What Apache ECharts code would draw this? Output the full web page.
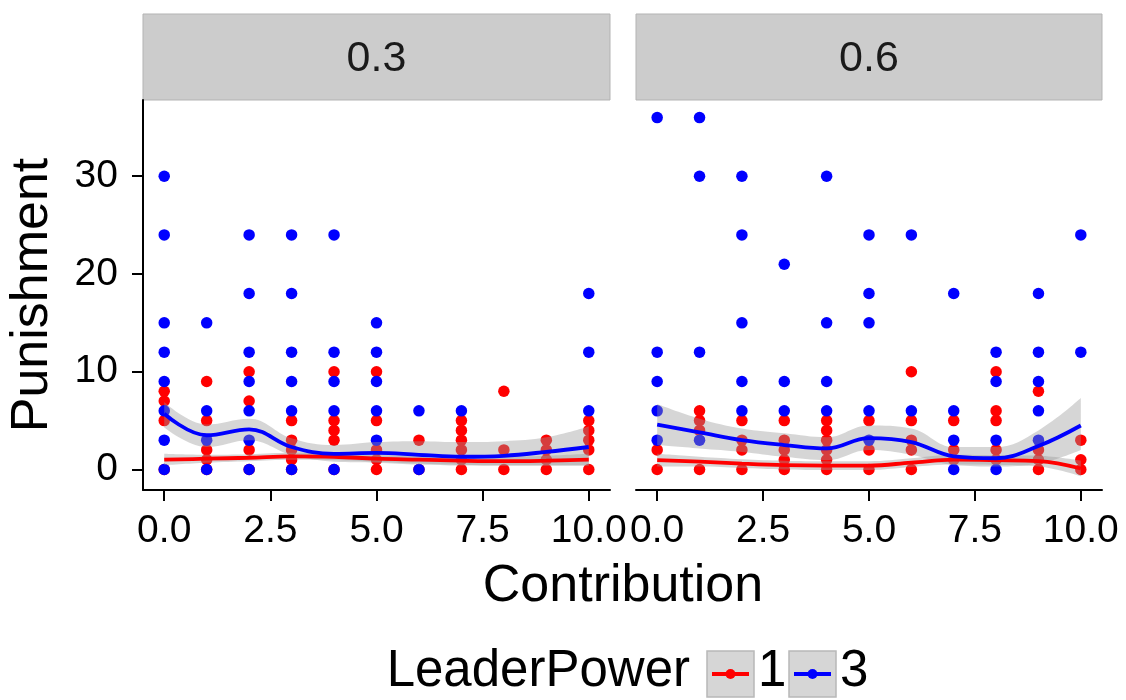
<!DOCTYPE html>
<html>
<head>
<meta charset="utf-8">
<script src="https://cdn.jsdelivr.net/npm/echarts@6/dist/echarts.min.js"></script>
<style>
  html, body { margin: 0; padding: 0; background: #ffffff; }
  #chart { width: 1126px; height: 700px; }
</style>
</head>
<body>
<div id="chart"></div>
<script>
// Facets (sharing rate) and axis ticks
const facets = ['0.3', '0.6'];
const contribTicks = [0, 2.5, 5, 7.5, 10];
const punishTicks = [0, 10, 20, 30];
const legendTitle = 'LeaderPower';
const groups = ['1', '3'];
const groupColors = ['#FF0000', '#0000FF'];

// Observations [Contribution, Punishment], LeaderPower = 1, facet 0.3
const lp1_03 = [[0,8],[0,7],[0,5],[0,0],[1,9],[1,5],[1,2],[1,1],[1,0],[2,10],[2,7],[2,2],[2,0],
  [3,5],[3,3],[3,2],[3,1],[3,0],[4,10],[4,5],[4,4],[4,3],[4,0],[5,10],[5,5],[5,2],[5,1],[5,0],
  [6,3],[6,0],[7,5],[7,4],[7,3],[7,2],[7,1],[7,0],[8,8],[8,2],[8,0],[9,3],[9,2],[9,1],[9,0],
  [10,5],[10,4],[10,3],[10,2],[10,0]];
// LeaderPower = 3, facet 0.3
const lp3_03 = [[0,30],[0,24],[0,15],[0,12],[0,9],[0,6],[0,3],[0,0],[1,15],[1,6],[1,3],[1,0],
  [2,24],[2,18],[2,12],[2,9],[2,6],[2,3],[2,0],[3,24],[3,18],[3,12],[3,9],[3,6],[3,0],
  [4,24],[4,12],[4,9],[4,6],[4,0],[5,15],[5,12],[5,9],[5,6],[5,3],[6,6],[6,0],[7,6],
  [10,18],[10,12],[10,6]];
// LeaderPower = 1, facet 0.6
const lp1_06 = [[0,2],[0,0],[1,6],[1,5],[1,4],[1,0],[2,5],[2,3],[2,2],[2,0],[3,5],[3,3],[3,2],[3,1],[3,0],
  [4,5],[4,4],[4,3],[4,2],[4,1],[4,0],[5,5],[5,2],[5,0],[6,10],[6,5],[6,3],[6,2],[6,0],
  [7,5],[7,2],[7,1],[8,10],[8,6],[8,5],[8,2],[8,1],[9,8],[9,2],[9,1],[9,0],[10,3],[10,1],[10,0]];
// LeaderPower = 3, facet 0.6
const lp3_06 = [[0,36],[0,12],[0,9],[0,6],[0,3],[1,36],[1,30],[1,12],[1,3],[2,30],[2,24],[2,15],[2,9],[2,6],
  [3,21],[3,9],[3,6],[4,30],[4,15],[4,9],[4,6],[5,24],[5,18],[5,15],[5,6],[5,3],[6,24],[6,6],
  [7,18],[7,6],[7,3],[7,0],[8,12],[8,9],[8,3],[8,0],[9,18],[9,12],[9,9],[9,6],[9,3],[10,24],[10,12]];

// Loess fits with confidence limits, evaluated at each contribution level
const smoothX = [0, 1, 2, 3, 4, 5, 6, 7, 8, 9, 10];
const fit1_03 = [1.0, 1.1, 1.2, 1.35, 1.3, 1.1, 1.0, 0.9, 0.85, 0.9, 1.0];
const lo1_03  = [0.45, 0.7, 0.85, 1.0, 0.95, 0.8, 0.6, 0.45, 0.4, 0.4, 0.4];
const hi1_03  = [1.6, 1.5, 1.55, 1.7, 1.65, 1.45, 1.4, 1.35, 1.3, 1.4, 1.6];
const fit3_03 = [5.7, 3.5, 4.1, 2.3, 1.6, 1.7, 1.5, 1.3, 1.4, 1.8, 2.3];
const lo3_03  = [4.3, 2.3, 3.0, 1.5, 0.8, 0.7, 0.5, 0.4, 0.4, 0.4, 0.4];
const hi3_03  = [6.9, 4.6, 5.2, 3.2, 2.5, 2.8, 2.9, 2.8, 2.9, 3.3, 4.4];
const fit1_06 = [0.95, 0.8, 0.6, 0.45, 0.4, 0.4, 0.7, 1.0, 0.95, 0.85, 0.1];
const lo1_06  = [0.3, 0.3, 0.15, 0.0, -0.05, -0.05, 0.25, 0.5, 0.45, 0.3, -0.7];
const hi1_06  = [1.6, 1.3, 1.05, 0.9, 0.85, 0.85, 1.15, 1.5, 1.45, 1.4, 0.9];
const fit3_06 = [4.6, 3.8, 3.0, 2.5, 2.15, 3.2, 2.8, 1.35, 1.15, 2.4, 4.5];
const lo3_06  = [2.5, 2.15, 1.8, 1.3, 0.95, 2.0, 1.5, 0.45, 0.3, 0.6, 2.0];
const hi3_06  = [6.7, 5.2, 4.2, 3.7, 3.3, 4.5, 4.2, 2.3, 2.3, 4.0, 7.3];

const FONT = "'Liberation Sans', Arial, sans-serif";
const BAND = 'rgba(153,153,153,0.4)';
const SMOOTH = 0.4;

const panels = [
  { points: [lp1_03, lp3_03], fits: [fit1_03, fit3_03], lo: [lo1_03, lo3_03], hi: [hi1_03, hi3_03] },
  { points: [lp1_06, lp3_06], fits: [fit1_06, fit3_06], lo: [lo1_06, lo3_06], hi: [hi1_06, hi3_06] }
];

const gridBoxes = [
  { left: 143, top: 100, width: 467, height: 390 },
  { left: 636, top: 100, width: 466, height: 390 }
];

const grid = [], xAxis = [], yAxis = [], series = [], graphic = [];

panels.forEach((p, gi) => {
  grid.push(gridBoxes[gi]);
  const valX = xAxis.length;
  xAxis.push({
    type: 'value', gridIndex: gi, min: -0.5, max: 10.5,
    splitLine: { show: false },
    axisLine: { show: true, onZero: false, lineStyle: { color: '#000', width: 2 } },
    axisTick: { show: true, customValues: contribTicks, length: 11, lineStyle: { color: '#000', width: 2 } },
    axisLabel: { customValues: contribTicks, formatter: v => v.toFixed(1), fontSize: 39,
      color: '#000', fontFamily: FONT, margin: 22, hideOverlap: false }
  });
  const catX = xAxis.length;
  xAxis.push({ type: 'category', gridIndex: gi, show: false, boundaryGap: true,
    axisLine: { onZero: false }, data: smoothX.map(String) });
  yAxis.push({
    type: 'value', gridIndex: gi, min: -2.1, max: 37.8,
    splitLine: { show: false },
    axisLine: { show: gi === 0, onZero: false, lineStyle: { color: '#000', width: 2 } },
    axisTick: { show: gi === 0, customValues: punishTicks, length: 11, lineStyle: { color: '#000', width: 2 } },
    axisLabel: { show: gi === 0, customValues: punishTicks, fontSize: 39, color: '#000',
      fontFamily: FONT, margin: 25 },
    name: gi === 0 ? 'Punishment' : '',
    nameLocation: 'middle', nameRotate: 90, nameGap: 84,
    nameTextStyle: { fontSize: 52, color: '#000', fontFamily: FONT }
  });

  // raw points, LeaderPower 1 then 3
  p.points.forEach((pts, k) => {
    series.push({
      type: 'scatter', xAxisIndex: valX, yAxisIndex: gi, data: pts,
      symbolSize: 11.5, itemStyle: { color: groupColors[k], opacity: 1 }, silent: true
    });
  });

  // confidence ribbon then fitted curve, per group
  p.fits.forEach((fit, k) => {
    const stackId = 'band' + gi + '_' + k;
    series.push({
      type: 'line', xAxisIndex: catX, yAxisIndex: gi, stack: stackId, stackStrategy: 'all',
      data: p.lo[k], symbol: 'none', smooth: SMOOTH, lineStyle: { opacity: 0 }, silent: true
    });
    series.push({
      type: 'line', xAxisIndex: catX, yAxisIndex: gi, stack: stackId, stackStrategy: 'all',
      data: p.hi[k].map((h, i) => h - p.lo[k][i]), symbol: 'none', smooth: SMOOTH,
      lineStyle: { opacity: 0 }, areaStyle: { color: BAND, opacity: 1 }, silent: true
    });
    series.push({
      type: 'line', xAxisIndex: catX, yAxisIndex: gi, data: fit, symbol: 'none',
      smooth: SMOOTH, lineStyle: { color: groupColors[k], width: 3.8 }, silent: true
    });
  });

  // facet strip
  const b = gridBoxes[gi];
  graphic.push({
    type: 'rect', shape: { x: b.left, y: 14, width: b.width, height: 86 },
    style: { fill: '#CCCCCC', stroke: '#B3B3B3', lineWidth: 1 }
  });
  graphic.push({
    type: 'text', x: b.left + b.width / 2, y: 59,
    style: { text: facets[gi], fontSize: 43, fill: '#1A1A1A', fontFamily: FONT,
      align: 'center', verticalAlign: 'middle' }
  });
});

// x-axis title centred under both panels
graphic.push({
  type: 'text', x: 623, y: 587,
  style: { text: 'Contribution', fontSize: 52, fill: '#000', fontFamily: FONT,
    align: 'center', verticalAlign: 'middle' }
});

// legend
graphic.push({
  type: 'text', x: 690, y: 672,
  style: { text: legendTitle, fontSize: 51, fill: '#000', fontFamily: FONT,
    align: 'right', verticalAlign: 'middle' }
});
const keyX = [707, 789];
groups.forEach((g, k) => {
  const x0 = keyX[k];
  graphic.push({ type: 'rect', shape: { x: x0, y: 651, width: 47, height: 46 },
    style: { fill: '#D6D6D6', stroke: '#B8B8B8', lineWidth: 1.5 } });
  graphic.push({ type: 'line', shape: { x1: x0 + 5, y1: 674, x2: x0 + 42, y2: 674 },
    style: { stroke: groupColors[k], lineWidth: 4 } });
  graphic.push({ type: 'circle', shape: { cx: x0 + 23.5, cy: 674, r: 5 },
    style: { fill: groupColors[k] } });
  graphic.push({ type: 'text', x: x0 + 51, y: 672,
    style: { text: g, fontSize: 51, fill: '#000', fontFamily: FONT,
      align: 'left', verticalAlign: 'middle' } });
});

const chart = echarts.init(document.getElementById('chart'), null, { renderer: 'canvas' });
chart.setOption({
  backgroundColor: '#ffffff',
  animation: false,
  grid, xAxis, yAxis, series, graphic
});
</script>
</body>
</html>
